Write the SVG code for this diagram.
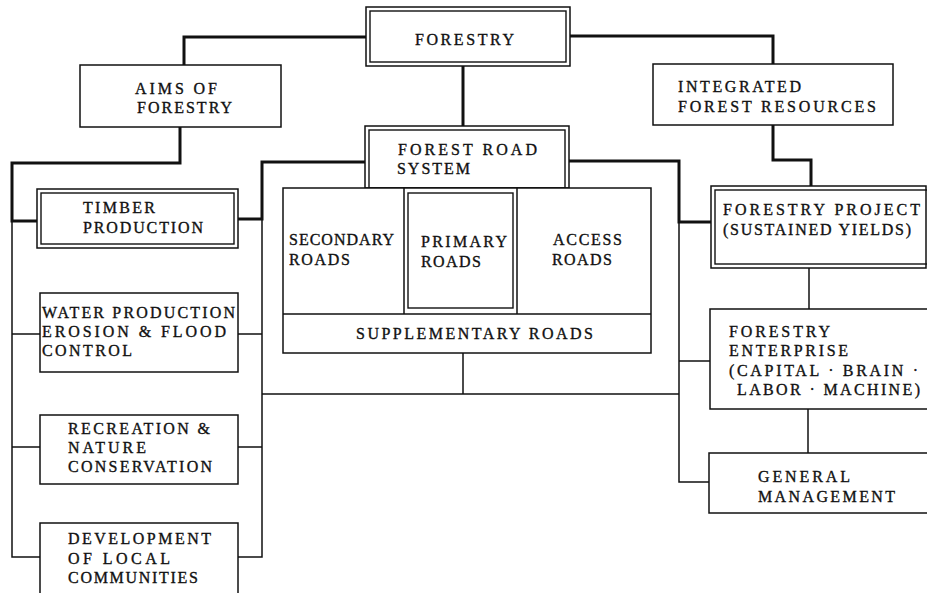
<svg xmlns="http://www.w3.org/2000/svg" width="927" height="593" viewBox="0 0 927 593">
<style>
.box{fill:#fff;stroke:#111;stroke-width:1.5}
.in{fill:none;stroke:#111;stroke-width:1.4}
.thick{fill:none;stroke:#111;stroke-width:3;stroke-linejoin:miter}
.thin{fill:none;stroke:#111;stroke-width:1.5}
text{font-family:"Liberation Serif","DejaVu Serif",serif;font-size:16px;fill:#111;stroke:#111;stroke-width:0.35}
</style>
<rect width="927" height="593" fill="#fff"/>
<g id="connectors">
<path class="thick" d="M366,37 H184 V65"/>
<path class="thick" d="M570,36 H773 V64"/>
<path class="thick" d="M463,66 V126"/>
<path class="thick" d="M180,127 V163 H12 V221 H37"/>
<path class="thin" d="M12,221 V557 H40 M12,334 H40 M12,447 H40"/>
<path class="thick" d="M365,162 H262 V219 H238"/>
<path class="thin" d="M262,219 V557 H238 M262,334 H238 M262,447 H238"/>
<path class="thick" d="M569,161 H679 V222 H711"/>
<path class="thin" d="M679,222 V482 H709 M679,361 H710"/>
<path class="thin" d="M463,353 V394 M262,394 H679"/>
<path class="thick" d="M773,125 V160 H811 V186"/>
<path class="thin" d="M809,268 V309"/>
<path class="thin" d="M808,409 V453"/>
</g>
<g id="forestry">
<rect class="box" x="366" y="7" width="204" height="59"/>
<rect class="in" x="370" y="11" width="196" height="51"/>
<text x="415" y="45" textLength="99" lengthAdjust="spacing">FORESTRY</text>
</g>
<g id="aims">
<rect class="box" x="80" y="65" width="201" height="62"/>
<text x="135" y="94" textLength="82" lengthAdjust="spacing">AIMS  OF</text>
<text x="137" y="113" textLength="95" lengthAdjust="spacing">FORESTRY</text>
</g>
<g id="integrated">
<rect class="box" x="653" y="64" width="240" height="61"/>
<text x="678" y="92" textLength="123" lengthAdjust="spacing">INTEGRATED</text>
<text x="678" y="112" textLength="198" lengthAdjust="spacing">FOREST  RESOURCES</text>
</g>
<g id="road-system">
<rect class="box" x="365" y="126" width="204" height="62"/>
<rect class="in" x="369" y="130" width="196" height="58"/>
<text x="398" y="155" textLength="139" lengthAdjust="spacing">FOREST  ROAD</text>
<text x="397" y="174" textLength="73" lengthAdjust="spacing">SYSTEM</text>
</g>
<g id="roads">
<rect class="box" x="283" y="188" width="368" height="165"/>
<path class="thin" d="M404,188 V314 M517,188 V314 M283,314 H651"/>
<rect class="in" x="408" y="193" width="105" height="115"/>
<text x="289" y="245" textLength="105" lengthAdjust="spacing">SECONDARY</text>
<text x="289" y="265" textLength="61" lengthAdjust="spacing">ROADS</text>
<text x="421" y="247" textLength="86" lengthAdjust="spacing">PRIMARY</text>
<text x="421" y="267" textLength="60" lengthAdjust="spacing">ROADS</text>
<text x="553" y="245" textLength="69" lengthAdjust="spacing">ACCESS</text>
<text x="552" y="265" textLength="60" lengthAdjust="spacing">ROADS</text>
<text x="356" y="339" textLength="237" lengthAdjust="spacing">SUPPLEMENTARY ROADS</text>
</g>
<g id="timber">
<rect class="box" x="37" y="189" width="201" height="59"/>
<rect class="in" x="41" y="193" width="193" height="51"/>
<text x="83" y="213" textLength="72" lengthAdjust="spacing">TIMBER</text>
<text x="83" y="233" textLength="120" lengthAdjust="spacing">PRODUCTION</text>
</g>
<g id="water">
<rect class="box" x="40" y="293" width="198" height="79"/>
<text x="42" y="318" textLength="193" lengthAdjust="spacing">WATER PRODUCTION</text>
<text x="42" y="337" textLength="184" lengthAdjust="spacing">EROSION  &amp; FLOOD</text>
<text x="42" y="356" textLength="90" lengthAdjust="spacing">CONTROL</text>
</g>
<g id="recreation">
<rect class="box" x="40" y="415" width="198" height="69"/>
<text x="68" y="434" textLength="142" lengthAdjust="spacing">RECREATION &amp;</text>
<text x="68" y="453" textLength="78" lengthAdjust="spacing">NATURE</text>
<text x="68" y="472" textLength="144" lengthAdjust="spacing">CONSERVATION</text>
</g>
<g id="development">
<rect class="box" x="40" y="523" width="198" height="85"/>
<text x="68" y="544" textLength="143" lengthAdjust="spacing">DEVELOPMENT</text>
<text x="68" y="564" textLength="102" lengthAdjust="spacing">OF  LOCAL</text>
<text x="68" y="583" textLength="130" lengthAdjust="spacing">COMMUNITIES</text>
</g>
<g id="project">
<rect class="box" x="711" y="186" width="215" height="82"/>
<rect class="in" x="715" y="190" width="215" height="74"/>
<text x="723" y="215" textLength="197" lengthAdjust="spacing">FORESTRY  PROJECT</text>
<text x="723" y="235" textLength="188" lengthAdjust="spacing">(SUSTAINED YIELDS)</text>
</g>
<g id="enterprise">
<rect class="box" x="710" y="309" width="222" height="100"/>
<text x="729" y="337" textLength="101" lengthAdjust="spacing">FORESTRY</text>
<text x="729" y="356" textLength="119" lengthAdjust="spacing">ENTERPRISE</text>
<text x="729" y="376" textLength="189" lengthAdjust="spacing">(CAPITAL · BRAIN ·</text>
<text x="737" y="395" textLength="183" lengthAdjust="spacing">LABOR ·  MACHINE)</text>
</g>
<g id="management">
<rect class="box" x="709" y="453" width="222" height="60"/>
<text x="758" y="482" textLength="92" lengthAdjust="spacing">GENERAL</text>
<text x="758" y="502" textLength="137" lengthAdjust="spacing">MANAGEMENT</text>
</g>
</svg>
